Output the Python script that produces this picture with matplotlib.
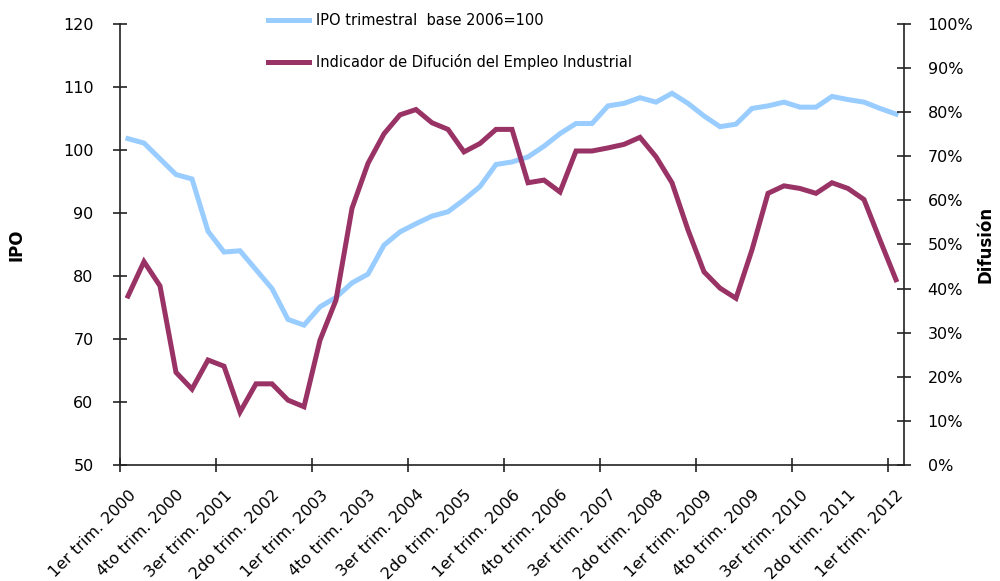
import numpy as np
import matplotlib.pyplot as plt
from matplotlib.ticker import PercentFormatter, FixedLocator

plt.rcParams['font.family'] = ['DejaVu Sans']

quarter_names = ['1er', '2do', '3er', '4to']
years = list(range(2000, 2013))
categories = [f"{q} trim. {y}" for y in years for q in quarter_names][:49]

ipo = [101.8, 101.1, 98.6, 96.1, 95.4, 87.1, 83.8, 84.0, 81.0, 78.0,
       73.1, 72.2, 75.1, 76.6, 78.9, 80.3, 84.9, 87.0, 88.3, 89.5,
       90.2, 92.1, 94.2, 97.7, 98.1, 98.9, 100.6, 102.6, 104.2, 104.2,
       107.0, 107.4, 108.3, 107.6, 109.0, 107.4, 105.4, 103.7, 104.1, 106.6,
       107.0, 107.6, 106.8, 106.8, 108.5, 108.0, 107.6, 106.6, 105.7]

difusion = [38.3, 46.1, 40.6, 21.0, 17.2, 23.8, 22.4, 12.0, 18.4, 18.4,
            14.7, 13.2, 28.3, 37.4, 58.2, 68.4, 75.1, 79.4, 80.6, 77.6,
            76.1, 71.0, 72.9, 76.1, 76.1, 64.0, 64.6, 61.9, 71.2, 71.2,
            71.9, 72.7, 74.3, 69.9, 64.0, 53.3, 43.8, 40.1, 37.8, 48.8,
            61.6, 63.3, 62.7, 61.6, 64.0, 62.7, 60.2, 51.0, 42.0]

blue = '#99CCFF'
maroon = '#993366'
axis_col = '#222222'

fig = plt.figure(figsize=(10, 5.81), dpi=100)
ax = fig.add_axes([0.12, 0.1997, 0.784, 0.7590])
x = np.arange(len(categories))

l1, = ax.plot(x, ipo, color=blue, lw=3.6, solid_joinstyle='miter')
ax.set_xlim(-0.5, len(categories) - 0.5)
ax.set_ylim(50, 120)
ax.set_yticks(np.arange(50, 121, 10))

ax2 = ax.twinx()
l2, = ax2.plot(x, np.array(difusion) / 100, color=maroon, lw=3.6, solid_joinstyle='miter')
ax2.set_ylim(0, 1)
ax2.set_yticks(np.arange(0, 1.01, 0.1))
ax2.yaxis.set_major_formatter(PercentFormatter(1.0, decimals=0))

# labels every 3 quarters, tick marks every 6 quarters at category edges
ax.set_xticks(x[::3])
ax.set_xticklabels(categories[::3], rotation=45, ha='right', rotation_mode='anchor')
ax.xaxis.set_minor_locator(FixedLocator(np.arange(-0.5, len(categories), 6)))
ax.tick_params(axis='x', which='major', length=0, pad=16, labelsize=11.5)
ax.tick_params(axis='x', which='minor', length=10, direction='inout', width=1.2, color=axis_col)
ax.tick_params(axis='y', length=10, direction='inout', width=1.2, pad=14, labelsize=11.5, color=axis_col)
ax2.tick_params(axis='y', length=10, direction='inout', width=1.2, pad=12, labelsize=11.5, color=axis_col)

for a in (ax, ax2):
    a.spines['top'].set_visible(False)
    for s in ('left', 'right', 'bottom'):
        a.spines[s].set_color(axis_col)
        a.spines[s].set_linewidth(1.2)
ax.spines['right'].set_visible(False)
ax2.spines['left'].set_visible(False)
ax2.spines['bottom'].set_visible(False)

ax.set_ylabel('IPO', fontweight='bold', fontsize=12)
ax.yaxis.set_label_coords(-0.12, 0.5)
ax2.set_ylabel('Difusión', fontweight='bold', fontsize=12)
ax2.yaxis.set_label_coords(1.092, 0.5)

fig.legend([l1, l2], ['IPO trimestral  base 2006=100', 'Indicador de Difución del Empleo Industrial'],
           loc='upper left', bbox_to_anchor=(0.255, 1.0), frameon=False, fontsize=10.5,
           handlelength=2.8, handletextpad=0.45, labelspacing=1.75)

fig.savefig('out.png', dpi=100)
